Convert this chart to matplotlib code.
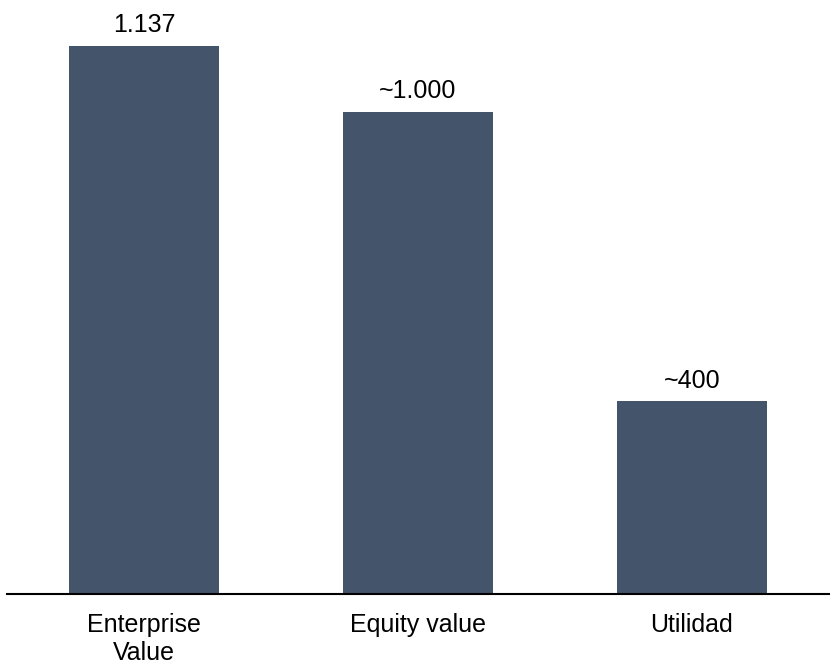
import matplotlib.pyplot as plt

plt.rcParams['font.family'] = ['Liberation Sans', 'DejaVu Sans']

categories = ["Enterprise\nValue", "Equity value", "Utilidad"]
values = [1137, 1000, 400]
labels = ["1.137", "~1.000", "~400"]

fig = plt.figure(figsize=(8.37, 6.71), dpi=100)
ax = fig.add_axes([7/837, 77/671, 822/837, 584/671])

x = range(len(values))
bars = ax.bar(x, values, width=0.551, color="#44546A")
for b, lab in zip(bars, labels):
    ax.annotate(lab, (b.get_x() + b.get_width()/2, b.get_height()),
                xytext=(0, 6), textcoords="offset points",
                ha="center", va="bottom", fontsize=18)

ax.set_xlim(-0.5, 2.5)
ax.set_ylim(0, 1211)
ax.set_xticks(list(x))
ax.set_xticklabels(categories, fontsize=18, linespacing=1.2)
ax.tick_params(axis="x", length=0, pad=14)
ax.set_yticks([])
for s in ["top", "right", "left"]:
    ax.spines[s].set_visible(False)
ax.spines["bottom"].set_linewidth(1.5)
ax.spines["bottom"].set_color("black")

fig.savefig("out.png", dpi=100)
